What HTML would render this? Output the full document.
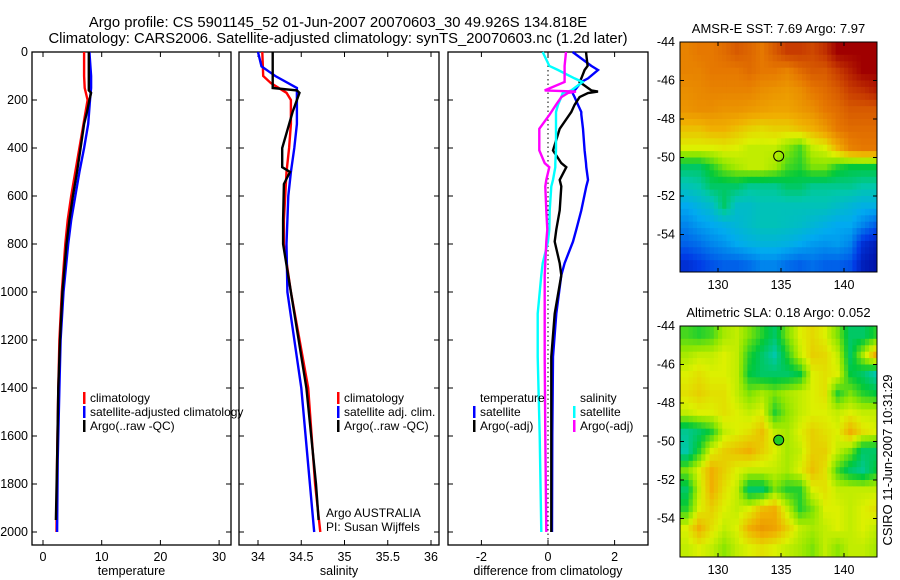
<!DOCTYPE html>
<html><head><meta charset="utf-8"><style>
html,body{margin:0;padding:0;background:#fff;}
svg{display:block;font-family:"Liberation Sans",sans-serif;}
</style></head><body>
<svg id="chart" width="900" height="580" viewBox="0 0 900 580" xmlns="http://www.w3.org/2000/svg">
<text x="338" y="27" font-size="14.8" text-anchor="middle">Argo profile: CS 5901145_52 01-Jun-2007 20070603_30 49.926S 134.818E</text>
<text x="338" y="43" font-size="14.8" text-anchor="middle">Climatology: CARS2006. Satellite-adjusted climatology: synTS_20070603.nc (1.2d later)</text>
<g id="g"></g>
</svg>
<script>
// ---- profile data ----
const tDepthClim=[0,100,150,200,300,400,500,600,700,800,1000,1200,1400,1700,2000];
const tClim=[7.0,7.0,7.1,7.6,6.9,6.2,5.5,4.8,4.2,3.8,3.2,2.8,2.6,2.4,2.3];
const tSat=[7.9,8.2,8.2,8.0,7.7,7.0,6.2,5.5,4.8,4.3,3.5,3.0,2.8,2.5,2.4];
const tDepthArgo=[0,100,160,170,200,250,300,400,500,600,700,800,1000,1200,1400,1700,1950];
const tArgo=[7.8,7.8,7.8,8.2,7.9,7.5,7.0,6.4,5.8,5.1,4.5,4.0,3.3,2.9,2.6,2.4,2.2];

const sDepthClim=[0,100,130,170,200,300,400,500,700,800,1000,1400,1800,2000];
const sClim=[34.05,34.06,34.15,34.33,34.38,34.38,34.36,34.33,34.30,34.30,34.38,34.58,34.66,34.72];
const sDepthSat=[0,60,80,100,150,200,300,400,500,600,800,1000,1400,1800,2000];
const sSat=[34.0,34.04,34.12,34.2,34.45,34.45,34.45,34.42,34.38,34.35,34.33,34.34,34.5,34.6,34.65];
const sDepthArgo=[0,150,160,170,250,350,400,480,500,550,700,800,1000,1400,1800,1950];
const sArgo=[34.17,34.17,34.45,34.48,34.4,34.32,34.28,34.28,34.37,34.3,34.29,34.29,34.38,34.56,34.67,34.7];

const dDepth=[0,58,75,110,125,160,165,171,188,220,250,260,320,410,463,480,533,560,660,740,790,880,930,1090,1270,1600,2000];
const dTempSat=[0.74,1.3,1.5,1.2,1.0,0.8,0.76,0.74,0.8,0.9,1.0,1.0,1.05,1.1,1.14,1.15,1.2,1.15,1.0,0.85,0.75,0.5,0.4,0.25,0.15,0.13,0.12];
const dTempArgo=[1.14,1.19,1.1,1.0,0.95,1.3,1.5,1.2,0.95,0.8,0.7,0.65,0.35,0.15,0.4,0.55,0.35,0.4,0.35,0.25,0.2,0.35,0.4,0.2,0.1,0.1,0.1];
const dSalSat=[-0.16,0.04,0.3,0.8,1.04,0.7,0.6,0.44,0.4,0.3,0.24,0.24,0.24,0.24,0.22,0.22,0.15,0.1,0.05,0.04,0,-0.16,-0.2,-0.31,-0.31,-0.25,-0.2];
const dSalArgo=[0.54,0.5,0.5,0.5,0.5,-0.1,0.84,0.6,0.4,0.24,0.1,0.05,-0.26,-0.26,-0.1,0.04,-0.05,-0.08,-0.05,-0.02,-0.05,-0.08,-0.1,-0.1,-0.1,-0.08,-0.05];

// ---- tick labels ----
const depthTicks=[0,200,400,600,800,1000,1200,1400,1600,1800,2000];
const tempTicks=[0,10,20,30];
const salTicks=[34,34.5,35,35.5,36];
const salTickLabels=["34","34.5","35","35.5","36"];
const diffTicks=[-2,0,2];
const lonTicks=[130,135,140];
const latTicks=[-44,-46,-48,-50,-52,-54];

// ---- map grids (rows lat -44.5..-55.5, cols lon 127.5..142.5) ----
const sstGrid=[
[0.78,0.8,0.8,0.82,0.85,0.83,0.8,0.85,0.9,0.9,0.88,0.92,1,1,1,1],
[0.78,0.78,0.8,0.8,0.8,0.82,0.8,0.8,0.78,0.82,0.85,0.85,0.9,0.95,1,1],
[0.76,0.77,0.78,0.78,0.78,0.78,0.76,0.75,0.74,0.76,0.8,0.82,0.85,0.9,0.92,0.95],
[0.75,0.76,0.76,0.75,0.75,0.74,0.73,0.72,0.72,0.74,0.76,0.8,0.82,0.85,0.85,0.85],
[0.68,0.68,0.7,0.7,0.68,0.66,0.65,0.66,0.66,0.68,0.7,0.74,0.8,0.82,0.82,0.82],
[0.62,0.62,0.62,0.63,0.62,0.6,0.6,0.6,0.56,0.52,0.6,0.62,0.7,0.78,0.8,0.8],
[0.45,0.45,0.5,0.55,0.58,0.6,0.6,0.58,0.52,0.5,0.55,0.55,0.5,0.48,0.48,0.48],
[0.38,0.4,0.45,0.45,0.45,0.42,0.42,0.42,0.45,0.45,0.42,0.42,0.42,0.42,0.4,0.4],
[0.3,0.33,0.36,0.45,0.36,0.36,0.38,0.38,0.38,0.38,0.38,0.38,0.36,0.34,0.32,0.32],
[0.25,0.28,0.3,0.32,0.34,0.36,0.38,0.38,0.37,0.36,0.34,0.32,0.3,0.3,0.25,0.2],
[0.2,0.22,0.25,0.27,0.3,0.32,0.33,0.33,0.32,0.3,0.28,0.27,0.28,0.25,0.12,0.08],
[0.12,0.15,0.18,0.2,0.2,0.22,0.25,0.25,0.22,0.2,0.22,0.2,0.2,0.18,0.08,0.05]];
const slaGrid=[
[0.52,0.5,0.52,0.58,0.6,0.55,0.5,0.45,0.55,0.62,0.65,0.62,0.55,0.45,0.45,0.5],
[0.58,0.6,0.6,0.62,0.6,0.5,0.45,0.4,0.5,0.6,0.66,0.65,0.6,0.45,0.58,0.7],
[0.62,0.64,0.62,0.62,0.6,0.48,0.45,0.45,0.45,0.48,0.62,0.64,0.62,0.48,0.45,0.4],
[0.64,0.66,0.64,0.64,0.6,0.55,0.58,0.55,0.58,0.6,0.62,0.64,0.5,0.55,0.5,0.48],
[0.6,0.62,0.62,0.64,0.62,0.6,0.62,0.5,0.56,0.6,0.62,0.62,0.6,0.62,0.6,0.6],
[0.42,0.45,0.5,0.6,0.62,0.64,0.68,0.6,0.58,0.62,0.66,0.64,0.62,0.7,0.64,0.62],
[0.4,0.5,0.62,0.66,0.68,0.7,0.66,0.62,0.58,0.6,0.66,0.66,0.6,0.55,0.45,0.45],
[0.55,0.62,0.7,0.66,0.62,0.6,0.6,0.6,0.58,0.62,0.68,0.64,0.52,0.45,0.42,0.48],
[0.45,0.6,0.7,0.64,0.6,0.45,0.45,0.55,0.5,0.5,0.62,0.64,0.6,0.6,0.6,0.6],
[0.5,0.62,0.66,0.62,0.6,0.62,0.68,0.7,0.6,0.5,0.55,0.62,0.62,0.6,0.62,0.64],
[0.62,0.7,0.64,0.6,0.62,0.7,0.74,0.72,0.66,0.6,0.58,0.6,0.62,0.6,0.62,0.6],
[0.6,0.62,0.6,0.56,0.6,0.62,0.64,0.62,0.6,0.58,0.55,0.6,0.56,0.6,0.6,0.58]];
const gridLon0=127, gridLat0=-44;
const argoLon=134.818, argoLat=-49.926;

const NS='http://www.w3.org/2000/svg';
const G=document.getElementById('g');
function mk(tag,attrs,parent){const e=document.createElementNS(NS,tag);for(const k in attrs)e.setAttribute(k,attrs[k]);(parent||G).appendChild(e);return e;}
function txt(s,x,y,anchor,size,parent){const e=mk('text',{x:x,y:y,'text-anchor':anchor||'start','font-size':size||12},parent);e.textContent=s;return e;}

const depthY=d=>52+d*0.24;
const PY0=52,PY1=545;
const panels=[
 {name:'temperature',x0:32,x1:231,fx:v=>43+v*5.87,ticks:tempTicks,labels:tempTicks.map(String),xlabel:'temperature'},
 {name:'salinity',x0:239,x1:439,fx:v=>258+(v-34)*86.5,ticks:salTicks,labels:salTickLabels,xlabel:'salinity'},
 {name:'difference',x0:448,x1:648,fx:v=>548+v*33.3,ticks:diffTicks,labels:['-2','0','2'],xlabel:'difference from climatology'}];

function drawLine(fx,vals,depths,color,name,w){
  const pts=vals.map((v,i)=>fx(v).toFixed(1)+','+depthY(depths[i]).toFixed(1)).join(' ');
  const p=mk('polyline',{points:pts,fill:'none',stroke:color,'stroke-width':w||2.4});
  
  
}

panels.forEach((P,pi)=>{
  const g=mk('g',{});
  
  
  const r=mk('rect',{x:P.x0,y:PY0,width:P.x1-P.x0,height:PY1-PY0,fill:'none',stroke:'#000','stroke-width':1.3},g);
  
  
  P.ticks.forEach((t,i)=>{
    const x=P.fx(t);
    mk('line',{x1:x,y1:PY1,x2:x,y2:PY1-5,stroke:'#000'},g);
    mk('line',{x1:x,y1:PY0,x2:x,y2:PY0+5,stroke:'#000'},g);
    const l=txt(P.labels[i],x,PY1+16,'middle',12.5,g);
    
    
  });
  depthTicks.forEach(d=>{
    const y=depthY(d);
    mk('line',{x1:P.x0,y1:y,x2:P.x0+5,y2:y,stroke:'#000'},g);
    mk('line',{x1:P.x1,y1:y,x2:P.x1-5,y2:y,stroke:'#000'},g);
    if(pi===0){const l=txt(String(d),28,y+4,'end',12.5,g);
      
      }
  });
  const xl=txt(P.xlabel,(P.x0+P.x1)/2,PY1+30,'middle',12.5,g);
  
  
});

const z=mk('line',{x1:548,y1:PY0,x2:548,y2:PY1,stroke:'#000','stroke-dasharray':'1.5,3'});



drawLine(panels[0].fx,tClim,tDepthClim,'#f00','temp-climatology-line');
drawLine(panels[0].fx,tSat,tDepthClim,'#00f','temp-satellite-line');
drawLine(panels[0].fx,tArgo,tDepthArgo,'#000','temp-argo-line');
drawLine(panels[1].fx,sClim,sDepthClim,'#f00','sal-climatology-line');
drawLine(panels[1].fx,sSat,sDepthSat,'#00f','sal-satellite-line');
drawLine(panels[1].fx,sArgo,sDepthArgo,'#000','sal-argo-line');
drawLine(panels[2].fx,dTempSat,dDepth,'#00f','diff-temp-satellite-line');
drawLine(panels[2].fx,dTempArgo,dDepth,'#000','diff-temp-argo-line');
drawLine(panels[2].fx,dSalSat,dDepth,'#0ff','diff-sal-satellite-line');
drawLine(panels[2].fx,dSalArgo,dDepth,'#f0f','diff-sal-argo-line');

function legend(x,y,entries,name){
  const g=mk('g',{});
  
  
  entries.forEach((e,i)=>{
    const yy=y+i*14;
    if(e[1])mk('rect',{x:x,y:yy-10,width:2.5,height:12,fill:e[1]},g);
    const t=txt(e[0],x+7,yy,'start',12,g);
    
    
  });
}
legend(83,402,[['climatology','#f00'],['satellite-adjusted climatology','#00f'],['Argo(..raw -QC)','#000']],'temperature-legend');
legend(337,402,[['climatology','#f00'],['satellite adj. clim.','#00f'],['Argo(..raw -QC)','#000']],'salinity-legend');
legend(473,402,[['temperature',null],['satellite','#00f'],['Argo(-adj)','#000']],'diff-temp-legend');
legend(573,402,[['salinity',null],['satellite','#0ff'],['Argo(-adj)','#f0f']],'diff-sal-legend');
const a1=txt('Argo AUSTRALIA',326,517,'start',12);
const a2=txt('PI: Susan Wijffels',326,531,'start',12);

// ---- maps ----
const cmapStops=[[0,0,0,140],[0.15,0,60,230],[0.3,0,170,240],[0.4,0,200,170],[0.48,0,200,60],[0.56,140,230,0],[0.62,220,240,0],[0.7,240,175,0],[0.8,230,120,0],[0.9,200,60,0],[1.0,160,0,0]];
function cmap(v){v=Math.max(0,Math.min(1,v));
  for(let i=1;i<cmapStops.length;i++){const a=cmapStops[i-1],b=cmapStops[i];
    if(v<=b[0]){const f=(v-a[0])/(b[0]-a[0]);
      return 'rgb('+[1,2,3].map(k=>Math.round(a[k]+(b[k]-a[k])*f)).join(',')+')';}}
  return 'rgb(160,0,0)';}
function sample(grid,r,c){
  const R=grid.length,C=grid[0].length;
  r=Math.max(0,Math.min(R-1,r));c=Math.max(0,Math.min(C-1,c));
  const r0=Math.floor(r),c0=Math.floor(c),r1=Math.min(R-1,r0+1),c1=Math.min(C-1,c0+1);
  const fr=r-r0,fc=c-c0;
  return grid[r0][c0]*(1-fr)*(1-fc)+grid[r0][c1]*(1-fr)*fc+grid[r1][c0]*fr*(1-fc)+grid[r1][c1]*fr*fc;}
function drawMap(grid,X0,X1,Y0,Y1,title,name,markerFill){
  const lonX=lon=>718+(lon-130)*12.6;
  const latY=lat=>Y0+(-44-lat)*19.25;
  const g=mk('g',{});
  
  
  const cid=name+'-clip';
  const cp=mk('clipPath',{id:cid},g);mk('rect',{x:X0,y:Y0,width:X1-X0,height:Y1-Y0},cp);
  const cells=mk('g',{'clip-path':'url(#'+cid+')'},g);
  const S=3;
  for(let ri=0;ri<grid.length*S;ri++)for(let ci=0;ci<grid[0].length*S;ci++){
    const rr=(ri+0.5)/S-0.5, cc=(ci+0.5)/S-0.5;
    const v=sample(grid,rr,cc);
    const x=lonX(gridLon0+ci/S), y=latY(gridLat0-ri/S);
    const r=mk('rect',{x:x.toFixed(1),y:y.toFixed(1),width:(12.6/S+0.6).toFixed(2),height:(19.25/S+0.6).toFixed(2),fill:cmap(v)},cells);
    
    
  }
  mk('rect',{x:X0,y:Y0,width:X1-X0,height:Y1-Y0,fill:'none',stroke:'#000','stroke-width':1},g);
  lonTicks.forEach(l=>{const x=lonX(l);
    mk('line',{x1:x,y1:Y1,x2:x,y2:Y1-4,stroke:'#000'},g);
    mk('line',{x1:x,y1:Y0,x2:x,y2:Y0+4,stroke:'#000'},g);
    const t=txt(String(l),x,Y1+17,'middle',12.5,g);});
  latTicks.forEach(l=>{const y=latY(l);
    mk('line',{x1:X0,y1:y,x2:X0+4,y2:y,stroke:'#000'},g);
    mk('line',{x1:X1,y1:y,x2:X1-4,y2:y,stroke:'#000'},g);
    const t=txt(String(l),X0-5,y+4,'end',12.5,g);});
  const m=mk('circle',{cx:lonX(argoLon),cy:latY(argoLat),r:5,fill:markerFill,stroke:'#000','stroke-width':1},g);
  
  
  const t=txt(title,(X0+X1)/2,Y0-9,'middle',13,g);
  
  
}
drawMap(sstGrid,680,877,42,272,'AMSR-E SST: 7.69 Argo: 7.97','sst-map','none');
drawMap(slaGrid,680,877,326,557,'Altimetric SLA: 0.18 Argo: 0.052','sla-map','#2c2');
const cs=txt('CSIRO 11-Jun-2007 10:31:29',0,0,'middle',13);
cs.setAttribute('transform','translate(892,460) rotate(-90)');


</script>
</body></html>
